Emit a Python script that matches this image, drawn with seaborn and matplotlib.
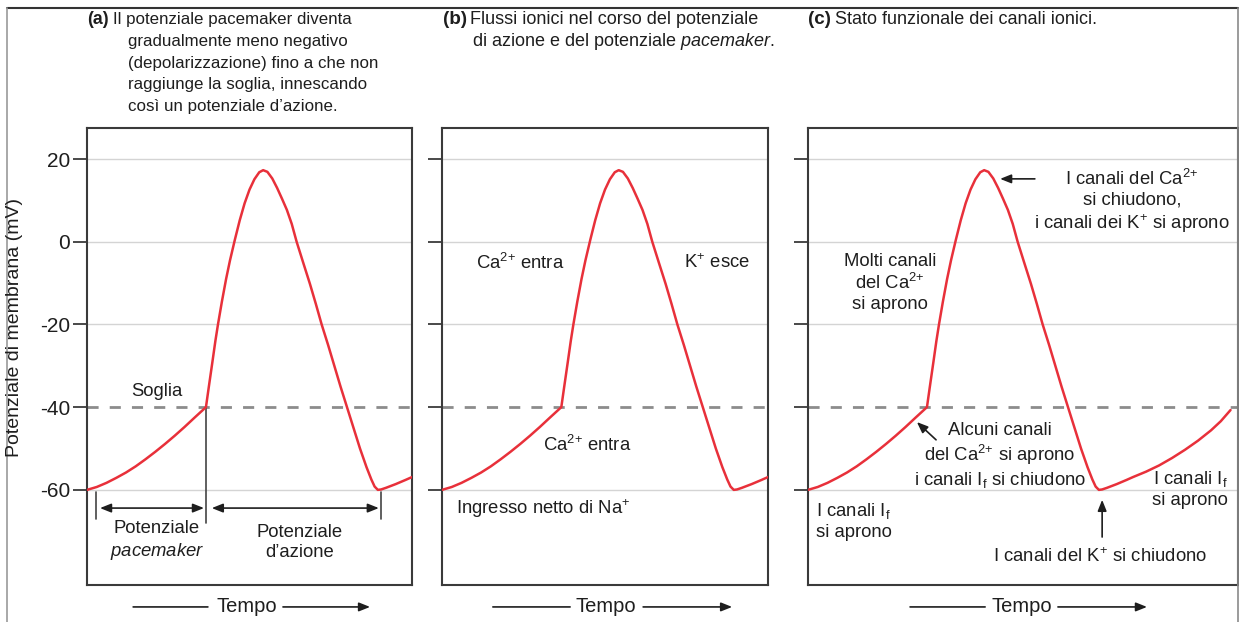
import numpy as np
import pandas as pd
import seaborn as sns
import matplotlib.pyplot as plt
from matplotlib.lines import Line2D

# Membrane potential of a sinoatrial pacemaker cell (time in arbitrary units, mV)
tempo = [0, 3, 6, 9, 12, 15, 18, 21, 24, 27, 30, 33, 36.6,
         37.5, 38.6, 39.5, 40.3, 41.5, 42.8, 44, 45.5, 47, 48.5, 50, 51.5, 53, 54.2,
         55.5, 57, 58.5, 60, 61.5, 63, 64.5, 66.5, 68.6, 70.4, 72.2, 74.2, 76.1, 78,
         80, 82, 84, 86, 87.5, 88.5, 89.5, 90.5, 92, 95, 98, 100,
         104, 108, 112, 116, 120, 124, 127, 130]
potenziale = [-60, -59.3, -58.3, -57.1, -55.8, -54.3, -52.6, -50.8, -48.9, -46.9, -44.8, -42.6, -40,
              -35, -29, -24, -20, -14.5, -9, -4.5, 0.5, 5.2, 9.3, 12.6, 15.1, 16.8, 17.3,
              16.9, 15.3, 13, 10.4, 7.7, 4.3, 0, -5, -10.2, -15, -20, -25, -30, -35,
              -40, -45, -50, -54.5, -57.5, -59.2, -60, -59.9, -59.5, -58.6, -57.6, -56.9,
              -55.6, -54.1, -52.3, -50.3, -48.1, -45.6, -43.4, -40.7]

yticks = [20, 0, -20, -40, -60]
ytick_labels = ["20", "0", "-20", "-40", "-60"]
soglia = -40

W, H = 1239, 622
RED = "#e8303a"
INK = "#1e1e1e"
SPINE = "#3a3a3a"

sns.set_theme(style="white")
plt.rcParams["font.family"] = ["Liberation Sans", "DejaVu Sans"]
plt.rcParams["mathtext.fontset"] = "custom"
plt.rcParams["mathtext.rm"] = "Liberation Sans"
plt.rcParams["mathtext.it"] = "Liberation Sans:italic"
plt.rcParams["mathtext.bf"] = "Liberation Sans:bold"

df = pd.DataFrame({"tempo": tempo, "mV": potenziale})

fig = plt.figure(figsize=(W / 100, H / 100), dpi=100)


def px_rect(x0, x1, y0, y1):
    return [x0 / W, 1 - y1 / H, (x1 - x0) / W, (y1 - y0) / H]


def fpos(x, y):
    return (x / W, 1 - y / H)


YLIM = (-83.0, 27.5)
ax_a = fig.add_axes(px_rect(87, 412, 128, 585))
ax_b = fig.add_axes(px_rect(442, 768, 128, 585))
ax_c = fig.add_axes(px_rect(808, 1238, 128, 585))
xlims = {ax_a: (0, 100), ax_b: (0, 100), ax_c: (0, 132.3)}

for ax in (ax_a, ax_b, ax_c):
    lo, hi = xlims[ax]
    sub = df[df["tempo"] <= hi + 1e-9]
    # horizontal reference lines; the threshold is dashed
    for v in yticks:
        if v == soglia:
            ax.axhline(v, color="#8c8c8c", lw=2.0, ls=(0, (4, 4)), zorder=1)
        else:
            ax.axhline(v, color="#d4d4d4", lw=1.0, zorder=1)
    sns.lineplot(data=sub, x="tempo", y="mV", ax=ax, color=RED, lw=1.8,
                 zorder=3, sort=False, estimator=None)
    ax.set_xlim(lo, hi)
    ax.set_ylim(*YLIM)
    ax.set_yticks(yticks)
    ax.set_xticks([])
    ax.set_xlabel("")
    ax.set_ylabel("")
    for s in ax.spines.values():
        s.set_visible(True)
        s.set_color(SPINE)
        s.set_linewidth(1.5)
    ax.tick_params(axis="y", left=True, direction="out", length=10, width=1.3,
                   color=SPINE, labelsize=15, labelcolor=INK, pad=2)
    if ax is ax_a:
        ax.set_yticklabels(ytick_labels)
    else:
        ax.tick_params(axis="y", labelleft=False)

ARROW = dict(arrowstyle="-|>,head_length=0.55,head_width=0.22", color=INK, lw=1.2,
             shrinkA=0, shrinkB=0)
LINE = dict(arrowstyle="-", color=INK, lw=1.2, shrinkA=0, shrinkB=0)
DARROW = dict(arrowstyle="<|-|>,head_length=0.55,head_width=0.22", color=INK, lw=1.2,
              shrinkA=0, shrinkB=0)


def tempo_axis(ax, a0, a1, tx, b0, b1):
    tr = ax.get_xaxis_transform()
    yf = -0.048
    ax.annotate("", xy=(a1, yf), xytext=(a0, yf), xycoords=tr, arrowprops=LINE,
                annotation_clip=False)
    ax.annotate("", xy=(b1, yf), xytext=(b0, yf), xycoords=tr, arrowprops=ARROW,
                annotation_clip=False)
    ax.text(tx, yf, "Tempo", transform=tr, ha="center", va="center", fontsize=14.5,
            color=INK, clip_on=False)


tempo_axis(ax_a, 14.2, 37.2, 49.2, 60.3, 87.1)
tempo_axis(ax_b, 15.6, 39.3, 50.3, 61.7, 89.0)
tempo_axis(ax_c, 31.4, 54.5, 65.8, 76.9, 104.3)

FS = 13.3
CA = "Ca$^{2{+}}$"
KP = "K$^{{+}}$"
IF = "I$_{\\mathrm{f}}$"

# ---- panel (a): phases of the pacemaker cycle
ax_a.text(21.5, -36.3, "Soglia", ha="center", va="center", fontsize=FS, color=INK)
ax_a.plot([36.6, 36.6], [soglia, -68], color="#444444", lw=1.2, zorder=2)
ax_a.plot([2.8, 2.8], [-60.5, -67], color="#444444", lw=1.2, zorder=2)
ax_a.plot([90.5, 90.5], [-60.5, -67], color="#444444", lw=1.2, zorder=2)
ax_a.annotate("", xy=(36.0, -64.4), xytext=(4.0, -64.4), arrowprops=DARROW)
ax_a.annotate("", xy=(89.8, -64.4), xytext=(38.4, -64.4), arrowprops=DARROW)
ax_a.text(21.5, -72.3, "Potenziale\n$\\mathit{pacemaker}$", ha="center", va="center",
          fontsize=FS, color=INK, linespacing=1.25)
ax_a.text(65.5, -72.7, "Potenziale\nd’azione", ha="center", va="center",
          fontsize=FS, color=INK, linespacing=1.25)

# ---- panel (b): ionic currents
ax_b.text(24.0, -5.1, CA + " entra", ha="center", va="center", fontsize=FS, color=INK)
ax_b.text(84.4, -5.1, KP + " esce", ha="center", va="center", fontsize=FS, color=INK)
ax_b.text(44.5, -49.1, CA + " entra", ha="center", va="center", fontsize=FS, color=INK)
ax_b.text(4.3, -64.6, "Ingresso netto di Na$^{{+}}$", ha="left", va="center", fontsize=FS,
          color=INK)

# ---- panel (c): channel states
ax_c.text(99.7, 9.6, "I canali del " + CA + "\nsi chiudono,\ni canali dei " + KP + " si aprono",
          ha="center", va="center", fontsize=FS, color=INK, linespacing=1.2)
ax_c.annotate("", xy=(59.1, 15.2), xytext=(69.8, 15.2), arrowprops=ARROW)
ax_c.text(25.2, -10.0, "Molti canali\ndel " + CA + "\nsi aprono", ha="center", va="center",
          fontsize=FS, color=INK, linespacing=1.2)
ax_c.text(59.0, -51.8, "Alcuni canali\ndel " + CA + " si aprono\ni canali " + IF + " si chiudono",
          ha="center", va="center", fontsize=FS, color=INK, linespacing=1.2)
ax_c.annotate("", xy=(33.5, -43.6), xytext=(39.4, -47.9), arrowprops=ARROW)
ax_c.text(2.6, -67.5, "I canali " + IF + "\nsi aprono", ha="left", va="center",
          fontsize=FS, color=INK, linespacing=1.2)
ax_c.text(129.2, -59.8, "I canali " + IF + "\nsi aprono", ha="right", va="center",
          fontsize=FS, color=INK, linespacing=1.2)
ax_c.annotate("", xy=(90.5, -62.4), xytext=(90.5, -71.4), arrowprops=ARROW)
ax_c.text(89.8, -76.2, "I canali del " + KP + " si chiudono", ha="center", va="center",
          fontsize=FS, color=INK)

# ---- panel headings
LS = 21.8
base = 24


def heading(tag, x_tag, x_first, x_rest, lines, size):
    fig.text(*fpos(x_tag, base), tag, fontsize=size + 0.6, fontweight="bold", color=INK,
             ha="left", va="baseline")
    for i, line in enumerate(lines):
        x = x_first if i == 0 else x_rest
        fig.text(*fpos(x, base + i * LS), line, fontsize=size, color=INK,
                 ha="left", va="baseline")


heading("(a)", 87, 113, 128, [
    "Il potenziale pacemaker diventa",
    "gradualmente meno negativo",
    "(depolarizzazione) fino a che non",
    "raggiunge la soglia, innescando",
    "così un potenziale d’azione.",
], 12.2)
heading("(b)", 443, 470, 472, [
    "Flussi ionici nel corso del potenziale",
    "di azione e del potenziale $\\mathit{pacemaker}$.",
], 13)
heading("(c)", 808, 835, 835, [
    "Stato funzionale dei canali ionici.",
], 13)

fig.text(*fpos(15, 328), "Potenziale di membrana (mV)", rotation=90, ha="center",
         va="center", fontsize=14, color=INK)

# outer frame of the figure
fig.add_artist(Line2D([7 / W, 1238 / W], [1 - 8 / H, 1 - 8 / H], color="#333333", lw=1.5))
fig.add_artist(Line2D([7 / W, 7 / W], [0, 1 - 8 / H], color="#9a9a9a", lw=1.2))
fig.add_artist(Line2D([1238 / W, 1238 / W], [0, 1 - 8 / H], color="#8a8a8a", lw=1.2))

fig.savefig("out.png", dpi=100, facecolor="white")
